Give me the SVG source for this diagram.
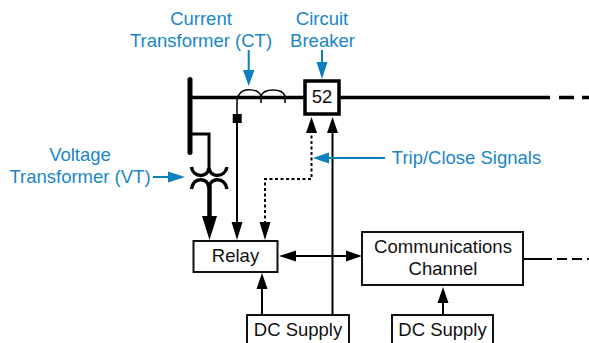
<svg xmlns="http://www.w3.org/2000/svg" width="589" height="343" viewBox="0 0 589 343">
<style>
text{font-family:"Liberation Sans",Arial,sans-serif;font-size:18.500px;text-anchor:middle}
.k{fill:#111}
.b{fill:#1a86c8}
.box{fill:#fff;stroke:#111;stroke-width:2}
.w{fill:none;stroke:#000;stroke-width:2}
.bl{fill:none;stroke:#0a7fbf;stroke-width:2}
.ah{fill:#000}
.bh{fill:#0a7fbf}
</style>
<rect width="589" height="343" fill="#fff"/>
<g id="connectors">
<path d="M190 79.500V152.500" fill="none" stroke="#000" stroke-width="5" stroke-linecap="round"/>
<path d="M190 97.500H305M339 97.500H550" fill="none" stroke="#000" stroke-width="3.500"/>
<path d="M559 97.500H574M582 97.500H589" fill="none" stroke="#000" stroke-width="3.500"/>
<path d="M192 134H209V170" fill="none" stroke="#000" stroke-width="3"/>
<path d="M191.500 167C193 178 208 178 209 168C210 178 225 178 227 167M191.500 189C193 176.700 208 176.700 209 188C210 176.700 225 176.700 227 189" fill="none" stroke="#000" stroke-width="3.500"/>
<path d="M209.500 186V218" fill="none" stroke="#000" stroke-width="4.500"/>
<polygon class="ah" points="202,216 217,216 209.500,240"/>
<path class="w" d="M237 222V102Q237 96 239 95C242 88 258 88 261 96V103M261 96C264 88 282 88 285 96V103" style="stroke-width:1.500"/>
<path class="w" d="M237 120V224"/>
<rect x="232.700" y="114" width="9" height="9" fill="#000"/>
<polygon class="ah" points="231.500,222 242.500,222 237,240"/>
<path d="M265 224V179H311.500V133" fill="none" stroke="#000" stroke-width="2" stroke-dasharray="3 2.500"/>
<polygon class="ah" points="259.500,222 270.500,222 265,240"/>
<polygon class="ah" points="306,133 317,133 311.500,117"/>
<path class="w" d="M332.500 132V315"/>
<polygon class="ah" points="327,133 338,133 332.500,117"/>
<path class="w" d="M294 256H347"/>
<polygon class="ah" points="296,250.500 296,261.500 279,256"/>
<polygon class="ah" points="346,250.500 346,261.500 362,256"/>
<path class="w" d="M262 315V288"/>
<polygon class="ah" points="256.500,289 267.500,289 262,273"/>
<path class="w" d="M443 315V302"/>
<polygon class="ah" points="437.500,303 448.500,303 443,287"/>
<path class="w" d="M523 259H552M557 259H567M572 259H582M587 259H589"/>
<path class="bl" d="M248.700 50V72M322 50V64M327 158H385M153 177H170"/>
<polygon class="bh" points="243,70 254.400,70 248.700,86"/>
<polygon class="bh" points="316.500,62 327.500,62 322,79"/>
<polygon class="bh" points="329,152.500 329,163.500 313,158"/>
<polygon class="bh" points="168,171.500 168,182.500 185,177"/>
</g>
<g id="breaker"><rect x="305" y="81" width="34" height="33" fill="#fff" stroke="#000" stroke-width="3.500"/><text class="k" x="322" y="103">52</text></g>
<g id="relay"><rect class="box" x="193.500" y="241" width="84" height="31"/><text class="k" x="235.500" y="262">Relay</text></g>
<g id="comm"><rect class="box" x="362" y="232" width="161" height="53"/><text class="k" x="443" y="253">Communications</text><text class="k" x="443" y="275">Channel</text></g>
<g id="dc1"><rect class="box" x="247" y="315" width="102" height="40"/><text class="k" x="298" y="336">DC Supply</text></g>
<g id="dc2"><rect class="box" x="392" y="315" width="101" height="40"/><text class="k" x="442.500" y="336">DC Supply</text></g>
<g id="labels">
<text class="b" x="201" y="25">Current</text><text class="b" x="201" y="47">Transformer (CT)</text>
<text class="b" x="322" y="25">Circuit</text><text class="b" x="322.500" y="47">Breaker</text>
<text class="b" x="80" y="160.500">Voltage</text><text class="b" x="80" y="183">Transformer (VT)</text>
<text class="b" x="466.500" y="164">Trip/Close Signals</text>
</g>
</svg>
